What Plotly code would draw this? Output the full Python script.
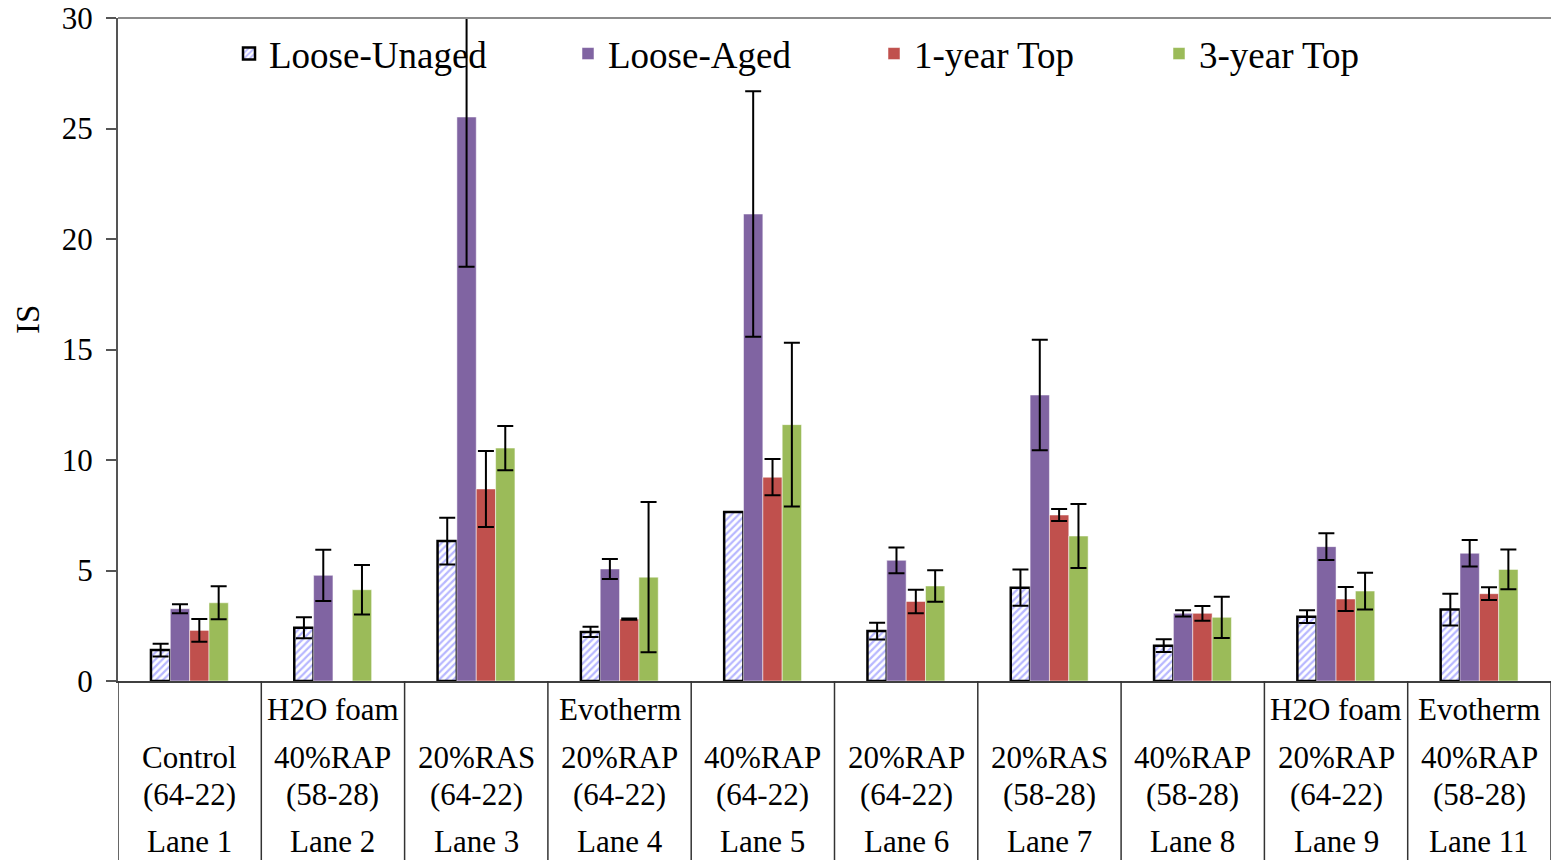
import plotly.graph_objects as go

# Lanes and their mix descriptions
lanes = ["Lane 1", "Lane 2", "Lane 3", "Lane 4", "Lane 5",
         "Lane 6", "Lane 7", "Lane 8", "Lane 9", "Lane 11"]
additives = ["", "H2O foam", "", "Evotherm", "", "", "", "", "H2O foam", "Evotherm"]
mixes = ["Control", "40%RAP", "20%RAS", "20%RAP", "40%RAP",
         "20%RAP", "20%RAS", "40%RAP", "20%RAP", "40%RAP"]
binders = ["(64-22)", "(58-28)", "(64-22)", "(64-22)", "(64-22)",
           "(64-22)", "(58-28)", "(58-28)", "(64-22)", "(58-28)"]

# IS values and error-bar half widths per sample type
loose_unaged = [1.4, 2.41, 6.33, 2.22, 7.65, 2.26, 4.22, 1.6, 2.91, 3.23]
loose_unaged_err = [0.29, 0.47, 1.06, 0.23, 0.0, 0.38, 0.82, 0.29, 0.29, 0.72]
loose_aged = [3.27, 4.78, 25.52, 5.07, 21.13, 5.46, 12.94, 3.06, 6.08, 5.78]
loose_aged_err = [0.2, 1.16, 6.77, 0.45, 5.55, 0.58, 2.5, 0.14, 0.6, 0.6]
top_1yr = [2.29, None, 8.69, 2.8, 9.22, 3.6, 7.51, 3.06, 3.71, 3.95]
top_1yr_err = [0.51, None, 1.72, 0.03, 0.82, 0.53, 0.27, 0.33, 0.54, 0.29]
top_3yr = [3.54, 4.13, 10.54, 4.7, 11.6, 4.3, 6.56, 2.88, 4.07, 5.05]
top_3yr_err = [0.75, 1.12, 1.0, 3.4, 3.7, 0.71, 1.45, 0.93, 0.83, 0.9]

FONT = "Liberation Serif"
W, H = 1551, 860
ML, MR, MT, MB = 118, 0, 18, 179
PH = H - MT - MB
PW = W - ML - MR


def py(pixel_y):
    """Paper y from a page pixel row."""
    return (H - MB - pixel_y) / PH


def px(pixel_x):
    """Paper x from a page pixel column."""
    return (pixel_x - ML) / PW


def err(vals):
    return dict(type="data", array=vals, visible=True, color="black",
                thickness=2, width=8)


fig = go.Figure()
fig.add_trace(go.Bar(
    name="Loose-Unaged", x=lanes, y=loose_unaged, error_y=err(loose_unaged_err),
    marker=dict(color="white", line=dict(color="black", width=2.5),
                pattern=dict(shape="/", fgcolor="#6f6fff", bgcolor="white",
                             size=5, solidity=0.45)),
    legend="legend", showlegend=True))
fig.add_trace(go.Bar(
    name="Loose-Aged", x=lanes, y=loose_aged, error_y=err(loose_aged_err),
    marker=dict(color="#8064A2", line=dict(color="rgba(255,255,255,0.5)", width=1)),
    legend="legend2", showlegend=True))
fig.add_trace(go.Bar(
    name="1-year Top", x=lanes, y=top_1yr, error_y=err(top_1yr_err),
    marker=dict(color="#C0504D", line=dict(color="rgba(255,255,255,0.5)", width=1)),
    legend="legend3", showlegend=True))
fig.add_trace(go.Bar(
    name="3-year Top", x=lanes, y=top_3yr, error_y=err(top_3yr_err),
    marker=dict(color="#9BBB59", line=dict(color="rgba(255,255,255,0.5)", width=1)),
    legend="legend4", showlegend=True))

legend_font = dict(family=FONT, size=37, color="black")
legend_y = py(54)
leg_common = dict(orientation="h", yanchor="middle", y=legend_y, xanchor="left",
                  bgcolor="rgba(0,0,0,0)", font=legend_font, borderwidth=0)

# Table below the axis: grid lines at lane boundaries and text rows
shapes = []
for b in range(len(lanes) + 1):
    shapes.append(dict(type="line", xref="x", yref="paper", x0=b - 0.5, x1=b - 0.5,
                       y0=py(H), y1=0, line=dict(color="#333333", width=1.5)))
shapes.append(dict(type="line", xref="paper", yref="paper", x0=0, x1=1, y0=1, y1=1,
                   line=dict(color="#8c8c8c", width=2)))

annotations = []
row_font = dict(family=FONT, size=31, color="black")
for i, lane in enumerate(lanes):
    for text, ypix in ((additives[i], 709), (mixes[i], 757),
                       (binders[i], 794), (lane, 841)):
        if text:
            annotations.append(dict(x=i, y=py(ypix), xref="x", yref="paper",
                                    text=text, showarrow=False, font=row_font,
                                    xanchor="center", yanchor="middle"))
annotations.append(dict(x=px(28), y=py(320), xref="paper", yref="paper",
                        text="IS", textangle=-90, showarrow=False,
                        font=dict(family=FONT, size=33, color="black"),
                        xanchor="center", yanchor="middle"))

fig.update_layout(
    width=W, height=H,
    margin=dict(l=ML, r=MR, t=MT, b=MB),
    paper_bgcolor="white", plot_bgcolor="white",
    showlegend=True,
    barmode="group", bargap=0.46, bargroupgap=0,
    font=dict(family=FONT, color="black"),
    legend=dict(x=px(229), **leg_common),
    legend2=dict(x=px(568), **leg_common),
    legend3=dict(x=px(874), **leg_common),
    legend4=dict(x=px(1159), **leg_common),
    xaxis=dict(range=[-0.5, len(lanes) - 0.5], showticklabels=False, ticks="",
               showline=True, linecolor="#404040", linewidth=2, showgrid=False,
               zeroline=False),
    yaxis=dict(range=[0, 30], dtick=5, showgrid=False, zeroline=False,
               showline=True, linecolor="#555555", linewidth=2,
               ticks="outside", ticklen=10, tickwidth=1.5, tickcolor="#555555",
               ticklabelstandoff=7,
               tickfont=dict(family=FONT, size=31, color="black")),
    shapes=shapes,
    annotations=annotations,
)

fig.write_html("out.html")
